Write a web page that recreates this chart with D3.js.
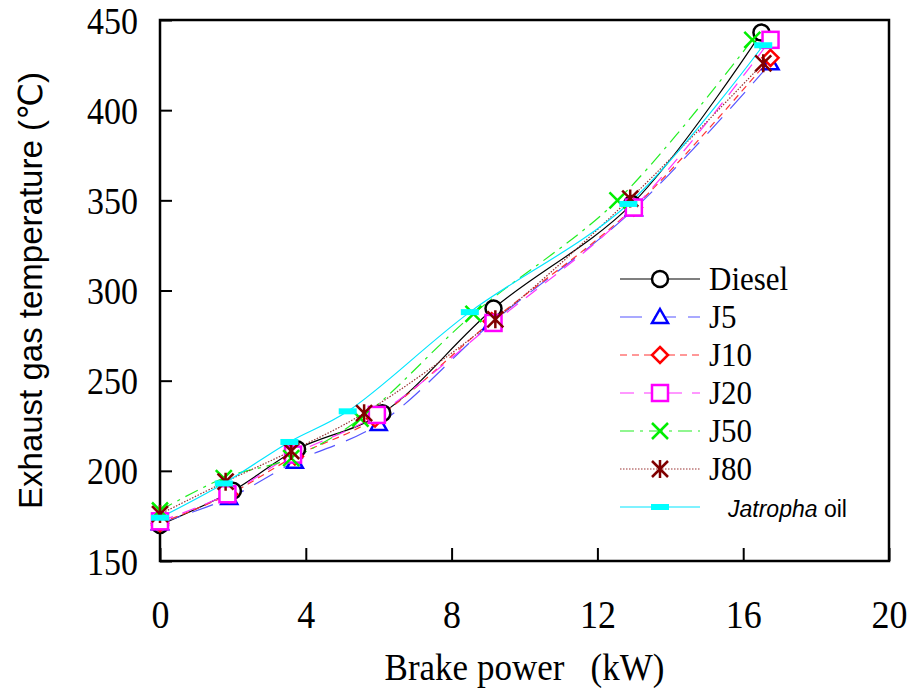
<!DOCTYPE html>
<html>
<head>
<meta charset="utf-8">
<script src="https://cdn.jsdelivr.net/npm/d3@7"></script>
<style>
  body { margin: 0; background: #fff; }
  svg { display: block; }
</style>
</head>
<body>
<div id="chart"></div>
<script>
// datos (kW, °C)
const seriesNames = ["Diesel", "J5", "J10", "J20", "J50", "J80", "Jatropha oil"];
const dieselX = [0, 2.0, 3.76, 6.1, 9.15, 12.95, 16.5];
const dieselT = [170, 189, 212, 232, 290, 348, 443];
const j5X = [0, 1.9, 3.7, 6.0, 9.1, 13.0, 16.75];
const j5T = [171, 185, 205, 226, 282, 345, 426];
const j10X = [0, 1.9, 3.7, 5.9, 9.1, 13.0, 16.75];
const j10T = [171, 187, 208, 229, 283, 346, 429];
const j20X = [0, 1.85, 3.65, 5.95, 9.15, 13.0, 16.75];
const j20T = [172, 187, 209, 231, 282, 346, 439];
const j50X = [0, 1.75, 3.6, 5.5, 8.6, 12.55, 16.25];
const j50T = [178, 196, 207, 229, 287, 350, 439];
const j80X = [0, 1.8, 3.6, 5.6, 9.2, 12.9, 16.55];
const j80T = [176, 194, 211, 232, 284, 351, 426];
const jatX = [0, 1.75, 3.55, 5.15, 8.5, 12.85, 16.55];
const jatT = [174, 193, 216, 233, 288, 348, 436];
const xTicks = [0, 4, 8, 12, 16, 20];
const yTicks = [150, 200, 250, 300, 350, 400, 450];

const allX = [dieselX, j5X, j10X, j20X, j50X, j80X, jatX];
const allT = [dieselT, j5T, j10T, j20T, j50T, j80T, jatT];

const estilos = [
  { color: "#000000", line: "#000000", dash: null, marker: "circle" },
  { color: "#0000ff", line: "#5555ff", dash: "22,12", marker: "triangle" },
  { color: "#ff0000", line: "#ff3333", dash: "7,5", marker: "diamond" },
  { color: "#ff00ff", line: "#ff33ff", dash: "14,10", marker: "square" },
  { color: "#00ee00", line: "#22ee22", dash: "14,6,3,6", marker: "cross" },
  { color: "#800000", line: "#993333", dash: "1.5,1.5", marker: "asterisk" },
  { color: "#00ffff", line: "#00e5ff", dash: null, marker: "bar" }
];

const W = 909, H = 690;
const margin = { top: 20, right: 20, bottom: 129, left: 160 };
const width = W - margin.left - margin.right;
const height = H - margin.top - margin.bottom;
const serif = "'Liberation Serif', 'Times New Roman', serif";

const svg = d3.select("#chart").append("svg")
  .attr("width", W)
  .attr("height", H);

const g = svg.append("g")
  .attr("transform", `translate(${margin.left},${margin.top})`);

const x = d3.scaleLinear().domain([0, 20]).range([0, width]);
const y = d3.scaleLinear().domain([150, 450]).range([height, 0]);

// ejes con ticks hacia dentro
const ejeX = g.append("g")
  .attr("transform", `translate(0,${height})`)
  .call(d3.axisBottom(x).tickValues(xTicks).tickSizeInner(-13).tickSizeOuter(0).tickPadding(0));
const ejeY = g.append("g")
  .call(d3.axisLeft(y).tickValues(yTicks).tickSizeInner(-12).tickSizeOuter(0).tickPadding(22));

[ejeX, ejeY].forEach(a => {
  a.select(".domain").remove();
  a.selectAll("line").attr("stroke", "#000").attr("stroke-width", 2);
  a.selectAll("text")
    .attr("fill", "#000")
    .style("font-family", serif);
});
// texto un poco más alto que ancho, como en el original
ejeX.selectAll("text")
  .style("font-size", "36px")
  .attr("y", null).attr("dy", null)
  .attr("transform", "translate(0,67) scale(1,1.12)");
ejeY.selectAll("text")
  .style("font-size", "34px")
  .attr("dy", null)
  .attr("transform", "translate(0,13) scale(1,1.1)");

// marco
g.append("rect")
  .attr("x", 0).attr("y", 0)
  .attr("width", width).attr("height", height)
  .attr("fill", "none")
  .attr("stroke", "#000")
  .attr("stroke-width", 2.5);

// marcadores
function dibujarMarcador(sel, tipo, color) {
  const s = 8;
  if (tipo === "circle") {
    sel.append("circle").attr("r", s).attr("fill", "#fff").attr("stroke", color).attr("stroke-width", 2.5);
  } else if (tipo === "triangle") {
    sel.append("path").attr("d", `M0,${-s} L${s},${s * 0.75} L${-s},${s * 0.75} Z`)
      .attr("fill", "#fff").attr("stroke", color).attr("stroke-width", 2.5);
  } else if (tipo === "diamond") {
    sel.append("path").attr("d", `M0,${-s} L${s},0 L0,${s} L${-s},0 Z`)
      .attr("fill", "#fff").attr("stroke", color).attr("stroke-width", 2.5);
  } else if (tipo === "square") {
    sel.append("rect").attr("x", -s).attr("y", -s).attr("width", 2 * s).attr("height", 2 * s)
      .attr("fill", "#fff").attr("stroke", color).attr("stroke-width", 2.5);
  } else if (tipo === "cross") {
    sel.append("path").attr("d", `M${-s},${-s} L${s},${s} M${s},${-s} L${-s},${s}`)
      .attr("stroke", color).attr("stroke-width", 2.5);
  } else if (tipo === "asterisk") {
    sel.append("path").attr("d", `M0,${-s - 1} L0,${s + 1} M${-s},${-s} L${s},${s} M${s},${-s} L${-s},${s}`)
      .attr("stroke", color).attr("stroke-width", 2.5);
  } else if (tipo === "bar") {
    sel.append("rect").attr("x", -9).attr("y", -3).attr("width", 18).attr("height", 6)
      .attr("fill", color);
  }
}

const linea = d3.line()
  .x(d => x(d.p))
  .y(d => y(d.t))
  .curve(d3.curveCatmullRom);

const datos = seriesNames.map((n, i) => allX[i].map((p, j) => ({ p: p, t: allT[i][j] })));

// líneas
datos.forEach((d, i) => {
  g.append("path")
    .datum(d)
    .attr("fill", "none")
    .attr("stroke", estilos[i].line)
    .attr("stroke-width", 1.2)
    .attr("stroke-dasharray", estilos[i].dash)
    .attr("d", linea);
});

// puntos
datos.forEach((d, i) => {
  g.selectAll(null)
    .data(d)
    .enter()
    .append("g")
    .attr("transform", p => `translate(${x(p.p)},${y(p.t)})`)
    .each(function () { dibujarMarcador(d3.select(this), estilos[i].marker, estilos[i].color); });
});

// leyenda
const leyenda = svg.append("g").attr("transform", "translate(620,279)");
seriesNames.forEach((n, i) => {
  const fila = leyenda.append("g").attr("transform", `translate(0,${i * 38})`);
  fila.append("line")
    .attr("x1", 0).attr("x2", 80).attr("y1", 0).attr("y2", 0)
    .attr("stroke", estilos[i].line)
    .attr("stroke-width", 1.2)
    .attr("stroke-dasharray", estilos[i].dash);
  dibujarMarcador(fila.append("g").attr("transform", "translate(40,0)"), estilos[i].marker, estilos[i].color);
  if (i < 6) {
    fila.append("text")
      .attr("transform", "translate(89,11) scale(1,1.1)")
      .style("font-family", serif)
      .style("font-size", "31px")
      .text(n);
  } else {
    const t = fila.append("text")
      .attr("x", 108).attr("y", 10)
      .style("font-family", "'Liberation Sans', Arial, sans-serif")
      .style("font-size", "23px");
    t.append("tspan").style("font-style", "italic").text("Jatropha");
    t.append("tspan").text(" oil");
  }
});

// títulos de ejes
svg.append("text")
  .attr("transform", `translate(${margin.left + width / 2},680) scale(1,1.1)`)
  .attr("text-anchor", "middle")
  .style("font-family", serif)
  .style("font-size", "35px")
  .style("white-space", "pre")
  .text("Brake power   (kW)");

svg.append("text")
  .attr("transform", `translate(42,${margin.top + height / 2}) rotate(-90)`)
  .attr("text-anchor", "middle")
  .style("font-family", "'Liberation Sans', Arial, 'DejaVu Sans', sans-serif")
  .style("font-size", "33px")
  .text("Exhaust gas temperature (℃)");
</script>
</body>
</html>
